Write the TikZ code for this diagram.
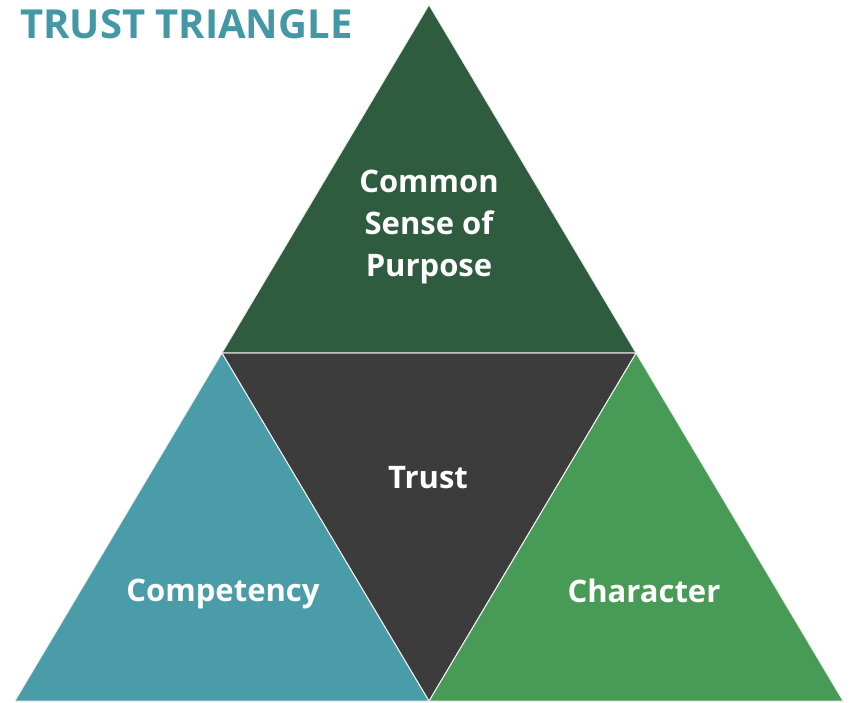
\documentclass[tikz,border=0pt]{standalone}
\usepackage{fontspec}
\setmainfont{Open Sans}
\usetikzlibrary{positioning,calc}
\definecolor{tealpart}{HTML}{4A9CA9}
\definecolor{greenpart}{HTML}{489B56}
\definecolor{toppart}{HTML}{2F5C3E}
\definecolor{midpart}{HTML}{3C3C3C}
\definecolor{titleteal}{HTML}{4498A5}
\tikzset{part/.style={draw=white!85!gray, line width=0.8pt, line join=miter}}
\tikzset{lbl/.style={text=white, font=\bfseries\fontsize{31}{42}\selectfont, align=center, inner sep=0pt}}
\tikzset{heading/.style={text=titleteal, font=\bfseries\fontsize{40}{48}\selectfont, anchor=north west, inner sep=0pt}}

\begin{document}
\begin{tikzpicture}[x=1pt, y=-1pt]
	\useasboundingbox (0,0) rectangle (852,703);
	\coordinate (top) at (429,5);
	\coordinate (bl) at (15,701);
	\coordinate (br) at (843,701);
	\coordinate (ml) at ($ (top)!.5!(bl) $);
	\coordinate (mr) at ($ (top)!.5!(br) $);
	\coordinate (mb) at ($ (bl)!.5!(br) $);
	\fill[part, fill=toppart] (top) -- (ml) -- (mr) -- cycle;
	\fill[part, fill=tealpart] (ml) -- (bl) -- (mb) -- cycle;
	\fill[part, fill=greenpart] (mr) -- (mb) -- (br) -- cycle;
	\fill[part, fill=midpart] (ml) -- (mr) -- (mb) -- cycle;
	\draw[part] (ml) -- (mr) -- (mb) -- cycle;
	\node[lbl] (purpose) at (429,227) {Common\\Sense of\\Purpose};
	\node[lbl] (trust) at (428,478) {Trust};
	\node[lbl] (competency) at (223,594) {Competency};
	\node[lbl] (character) at (644,591) {Character};
	\node[heading] (title) at (20,9) {TRUST TRIANGLE};
\end{tikzpicture}
\end{document}
